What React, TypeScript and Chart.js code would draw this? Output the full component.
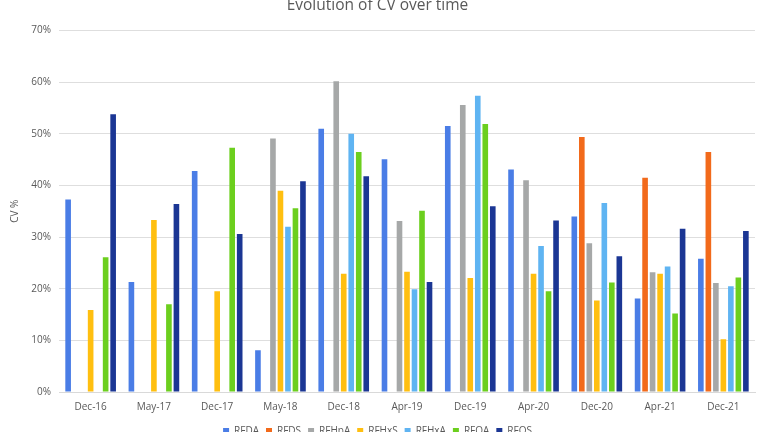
import React, { useEffect, useRef } from "react";
import { Chart, registerables } from "chart.js";

Chart.register(...registerables);

const categories = ["Dec-16", "May-17", "Dec-17", "May-18", "Dec-18", "Apr-19", "Dec-19", "Apr-20", "Dec-20", "Apr-21", "Dec-21"];

const rfda = [37.3, 21.3, 42.8, 8.1, 51.0, 45.1, 51.5, 43.1, 34.0, 18.1, 25.8];
const rfds = [null, null, null, null, null, null, null, null, 49.4, 41.5, 46.5];
const rfhpa = [null, null, null, 49.1, 60.2, 33.1, 55.6, 41.0, 28.8, 23.2, 21.1];
const rfhxs = [15.9, 33.3, 19.5, 39.0, 22.9, 23.3, 22.1, 22.9, 17.7, 22.9, 10.2];
const rfhxa = [null, null, null, 32.0, 50.0, 19.9, 57.4, 28.3, 36.6, 24.3, 20.5];
const rfoa = [26.1, 17.0, 47.3, 35.6, 46.5, 35.1, 51.9, 19.5, 21.2, 15.2, 22.2];
const rfos = [53.8, 36.4, 30.6, 40.8, 41.8, 21.3, 36.0, 33.2, 26.3, 31.6, 31.2];

const seriesNames = ["RFDA", "RFDS", "RFHpA", "RFHxS", "RFHxA", "RFOA", "RFOS"];
const seriesColors = ["#4a7de6", "#f26a1b", "#a6a8a8", "#ffbf10", "#5fb4f2", "#6ccf1e", "#1b3694"];

const FONT = "'Open Sans', 'Noto Sans', sans-serif";
const TEXT = "#595959";

export default function App() {
  const ref = useRef<HTMLCanvasElement>(null);

  useEffect(() => {
    document.body.style.overflow = "hidden";
    const values = [rfda, rfds, rfhpa, rfhxs, rfhxa, rfoa, rfos];
    const chart = new Chart(ref.current!, {
      type: "bar",
      data: {
        labels: categories,
        datasets: values.map((v, i) => ({
          label: seriesNames[i],
          data: v,
          backgroundColor: seriesColors[i],
          borderWidth: 0,
          categoryPercentage: 0.83,
          barPercentage: 0.75,
        })),
      },
      options: {
        animation: false,
        responsive: false,
        layout: { padding: { left: 0, right: 13, top: 0, bottom: 0 } },
        plugins: {
          title: {
            display: true,
            text: "Evolution of CV over time",
            color: TEXT,
            font: { family: FONT, size: 15.5, weight: "normal" },
            padding: { top: 10, bottom: 16 },
          },
          legend: {
            position: "bottom",
            labels: {
              boxWidth: 6,
              boxHeight: 6,
              padding: 7,
              color: TEXT,
              font: { family: FONT, size: 10 },
            },
          },
          tooltip: { enabled: false },
        },
        scales: {
          x: {
            grid: { display: false },
            border: { display: true, color: "#d9d9d9" },
            ticks: { color: TEXT, font: { family: FONT, size: 10 }, padding: 1 },
            afterFit: (s: any) => {
              s.height += 5;
            },
          },
          y: {
            min: 0,
            max: 70,
            ticks: {
              stepSize: 10,
              color: TEXT,
              font: { family: FONT, size: 10 },
              padding: 8,
              callback: (v: any) => v + "%",
            },
            grid: { color: "#dedede", drawTicks: false },
            border: { display: false },
            title: {
              display: true,
              text: "CV %",
              color: TEXT,
              font: { family: FONT, size: 10 },
              padding: { top: 9, bottom: 0 },
            },
            afterFit: (s: any) => {
              s.width = 59;
            },
          },
        },
      },
    });
    return () => chart.destroy();
  }, []);

  return (
    <div style={{ position: "fixed", left: 0, top: -14, width: 768, height: 460 }}>
      <canvas ref={ref} width={768} height={460} />
    </div>
  );
}
